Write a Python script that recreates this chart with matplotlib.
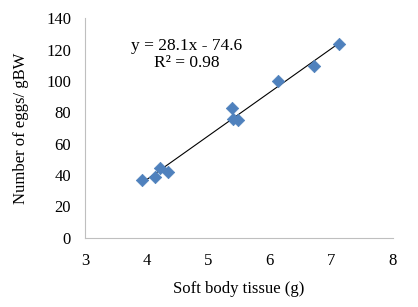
import matplotlib.pyplot as plt
import numpy as np

plt.rcParams['font.family'] = ['Liberation Serif', 'DejaVu Serif']

# soft body tissue (g) vs number of eggs / gBW
tissue = [3.92, 4.13, 4.22, 4.34, 5.38, 5.41, 5.49, 6.13, 6.71, 7.13]
eggs = [36.6, 38.9, 44.7, 41.9, 82.6, 75.7, 75.1, 100.0, 109.6, 123.8]

x_ticks = [3, 4, 5, 6, 7, 8]
y_ticks = [0, 20, 40, 60, 80, 100, 120, 140]

fig = plt.figure(figsize=(4.18, 3.07), dpi=100)
ax = fig.add_axes([85 / 418, 1 - 237.7 / 307, (393 - 85) / 418, (237.7 - 18.3) / 307])

ax.scatter(tissue, eggs, marker='D', s=40, color='#4F81BD', edgecolors='#4F81BD',
           linewidths=0.5, zorder=3)

# linear trendline
fit = np.polyfit(tissue, eggs, 1)
xs = np.array([min(tissue), max(tissue)])
ax.plot(xs, np.polyval(fit, xs), color='black', linewidth=0.8, zorder=2)

ax.text(0.33, 0.875, 'y = 28.1x - 74.6', transform=ax.transAxes, ha='center',
        va='center', fontsize=12.5)
ax.text(0.33, 0.795, 'R² = 0.98', transform=ax.transAxes, ha='center',
        va='center', fontsize=12.5)

ax.set_xlim(3, 8)
ax.set_ylim(0, 140)
ax.set_xticks(x_ticks)
ax.set_yticks(y_ticks)
ax.tick_params(axis='x', length=0, labelsize=12, pad=11)
ax.tick_params(axis='y', length=0, labelsize=12, pad=10)
for s in ['top', 'right']:
    ax.spines[s].set_visible(False)
for s in ['left', 'bottom']:
    ax.spines[s].set_color('#bfbfbf')
    ax.spines[s].set_linewidth(0.8)

ax.set_xlabel('Soft body tissue (g)', fontsize=12, labelpad=9)
ax.set_ylabel('Number of eggs/ gBW', fontsize=12, labelpad=12)

plt.savefig('out.png', dpi=100)
